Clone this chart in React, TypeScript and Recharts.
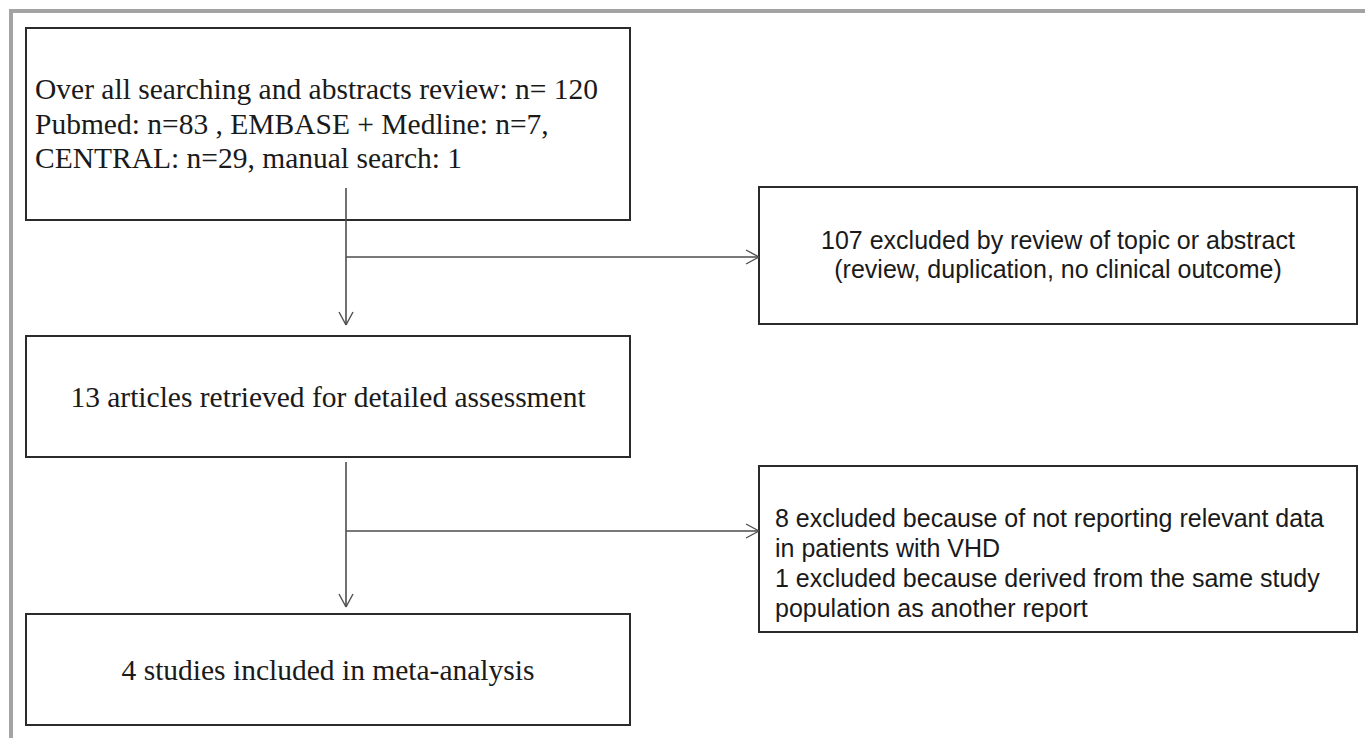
import React from "react";
import {
  ComposedChart,
  XAxis,
  YAxis,
  ReferenceArea,
  ReferenceLine,
} from "recharts";

// flow counts
const stageCounts = [120, 13, 4];
const sourceNames = ["Pubmed", "EMBASE + Medline", "CENTRAL", "manual search"];
const sourceCounts = [83, 7, 29, 1];
const excludedCounts = [107, 8, 1];
const exclusionReasons = [
  "review, duplication, no clinical outcome",
  "not reporting relevant data",
  "derived from the same study",
];

const W = 1365;
const H = 738;

const SERIF = "'Liberation Serif', 'Times New Roman', serif";
const SANS = "'Liberation Sans', Arial, sans-serif";

interface BoxSpec {
  y1: number;
  y2: number;
  x1: number;
  x2: number;
  lines: string[];
  font: string;
  size: number;
  lh: number;
  first: number; // first baseline, from box top
  align: "start" | "middle";
  padX: number;
}

const mainX = [26, 630];
const sideX = [759, 1357];
const trunkX = 346;

const boxes: BoxSpec[] = [
  {
    x1: mainX[0], x2: mainX[1], y1: 28, y2: 220,
    lines: [
      `Over all searching and abstracts review: n= ${stageCounts[0]}`,
      `${sourceNames[0]}: n=${sourceCounts[0]} , ${sourceNames[1]}: n=${sourceCounts[1]},`,
      `${sourceNames[2]}: n=${sourceCounts[2]}, ${sourceNames[3]}: ${sourceCounts[3]}`,
    ],
    font: SERIF, size: 29.5, lh: 34.5, first: 71, align: "start", padX: 9,
  },
  {
    x1: mainX[0], x2: mainX[1], y1: 336, y2: 457,
    lines: [`${stageCounts[1]} articles retrieved for detailed assessment`],
    font: SERIF, size: 29.5, lh: 34, first: 71, align: "middle", padX: 0,
  },
  {
    x1: mainX[0], x2: mainX[1], y1: 614, y2: 725,
    lines: [`${stageCounts[2]} studies included in meta-analysis`],
    font: SERIF, size: 29.5, lh: 34, first: 66, align: "middle", padX: 0,
  },
  {
    x1: sideX[0], x2: sideX[1], y1: 187, y2: 324,
    lines: [
      `${excludedCounts[0]} excluded by review of topic or abstract`,
      `(${exclusionReasons[0]})`,
    ],
    font: SANS, size: 25, lh: 29, first: 62, align: "middle", padX: 0,
  },
  {
    x1: sideX[0], x2: sideX[1], y1: 466, y2: 632,
    lines: [
      `${excludedCounts[1]} excluded because of ${exclusionReasons[1]}`,
      "in patients with VHD",
      `${excludedCounts[2]} excluded because ${exclusionReasons[2]}`,
      "population as another report",
    ],
    font: SANS, size: 25, lh: 30, first: 61, align: "start", padX: 16,
  },
];

// arrows: trunk segments down, branches to the right
const downArrows = [
  { y1: 188, y2: 325 },
  { y1: 462, y2: 607 },
];
const sideArrows = [257, 531];

const boxShape = (b: BoxSpec) => (props: any) => {
  const { x, y, width, height } = props;
  const tx = b.align === "middle" ? x + width / 2 : x + b.padX;
  return (
    <g>
      <rect x={x} y={y} width={width} height={height} fill="#fff" stroke="#2b2b2b" strokeWidth={2} />
      <text
        x={tx}
        y={y + b.first}
        textAnchor={b.align}
        fontFamily={b.font}
        fontSize={b.size}
        fill="#1a1a1a"
      >
        {b.lines.map((l, i) => (
          <tspan key={i} x={tx} dy={i === 0 ? 0 : b.lh}>
            {l}
          </tspan>
        ))}
      </text>
    </g>
  );
};

const HEAD = 13;
const SPREAD = 7;
const ARROW = "#4d4d4d";

export default function App() {
  return (
    <div style={{ position: "absolute", left: 0, top: 0, width: W, height: H, background: "#fff" }}>
      <ComposedChart width={W} height={H} margin={{ top: 0, right: 0, bottom: 0, left: 0 }}>
        <XAxis type="number" dataKey="x" domain={[0, W]} allowDataOverflow hide />
        <YAxis type="number" dataKey="y" domain={[0, H]} allowDataOverflow reversed hide />

        {/* outer frame, top and left only */}
        <ReferenceLine segment={[{ x: 9, y: 11 }, { x: W, y: 11 }]} stroke="#a3a3a3" strokeWidth={4} />
        <ReferenceLine segment={[{ x: 11, y: 9 }, { x: 11, y: H }]} stroke="#a3a3a3" strokeWidth={4} />

        {boxes.map((b, i) => (
          <ReferenceArea
            key={`box-${i}`}
            x1={b.x1}
            x2={b.x2}
            y1={b.y1}
            y2={b.y2}
            shape={boxShape(b)}
          />
        ))}

        {downArrows.map((a, i) => (
          <React.Fragment key={`down-${i}`}>
            <ReferenceLine segment={[{ x: trunkX, y: a.y1 }, { x: trunkX, y: a.y2 }]} stroke={ARROW} strokeWidth={1.6} />
            <ReferenceLine segment={[{ x: trunkX - SPREAD, y: a.y2 - HEAD }, { x: trunkX, y: a.y2 }]} stroke={ARROW} strokeWidth={1.4} />
            <ReferenceLine segment={[{ x: trunkX + SPREAD, y: a.y2 - HEAD }, { x: trunkX, y: a.y2 }]} stroke={ARROW} strokeWidth={1.4} />
          </React.Fragment>
        ))}

        {sideArrows.map((y, i) => (
          <React.Fragment key={`side-${i}`}>
            <ReferenceLine segment={[{ x: trunkX, y }, { x: sideX[0], y }]} stroke={ARROW} strokeWidth={1.6} />
            <ReferenceLine segment={[{ x: sideX[0] - HEAD, y: y - SPREAD }, { x: sideX[0], y }]} stroke={ARROW} strokeWidth={1.4} />
            <ReferenceLine segment={[{ x: sideX[0] - HEAD, y: y + SPREAD }, { x: sideX[0], y }]} stroke={ARROW} strokeWidth={1.4} />
          </React.Fragment>
        ))}
      </ComposedChart>
    </div>
  );
}
